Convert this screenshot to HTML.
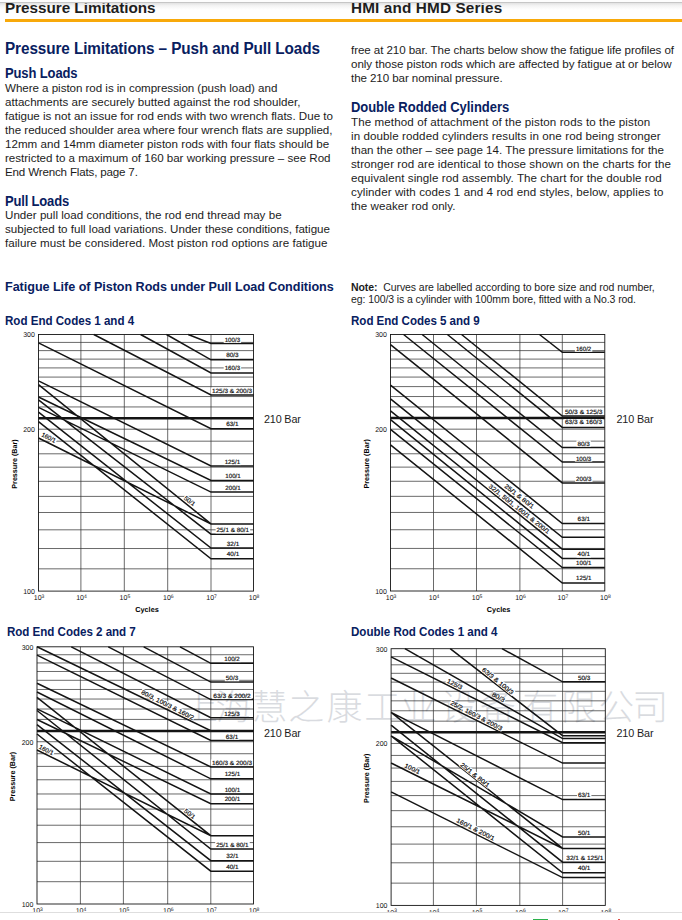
<!DOCTYPE html>
<html><head><meta charset="utf-8"><title>Pressure Limitations</title>
<style>
html,body{margin:0;padding:0;background:#fff}
body{width:682px;height:920px;position:relative;overflow:hidden;font-family:"Liberation Sans",sans-serif}
.t{position:absolute;white-space:nowrap;margin:0;padding:0}
svg{position:absolute;left:0;top:0}
svg text{font-family:"Liberation Sans",sans-serif;text-rendering:geometricPrecision}
#shadow{position:absolute;left:0;top:3px;width:682px;height:7px;background:linear-gradient(#e2e2e2,#f4f4f4 40%,#fff)}
#cap{position:absolute;left:0;top:0;width:682px;height:2.2px;background:#fdfdfd;border-bottom:1px solid #c6c6c6}
#rule{position:absolute;left:5px;top:19.4px;width:677px;height:2.8px;background:#f8a90a}
#gm{position:absolute;left:533px;top:919px;width:15px;height:1px;background:#2bb24c}
#rm{position:absolute;left:618px;top:919px;width:2px;height:1px;background:#e0504a}
#foot{position:absolute;left:0;top:912px;width:682px;height:8px;background:#fff;border-top:1px solid #dedede}
</style></head><body>
<div id="shadow"></div>
<svg width="682" height="920" viewBox="0 0 682 920">
<g>
<path d="M38.5 568.84H253.5M38.5 548.52H253.5M38.5 529.82H253.5M38.5 512.51H253.5M38.5 496.40H253.5M38.5 481.32H253.5M38.5 467.16H253.5M38.5 453.81H253.5M38.5 441.18H253.5M38.5 429.20H253.5M38.5 406.94H253.5M38.5 396.56H253.5M38.5 386.62H253.5M38.5 377.08H253.5M38.5 367.92H253.5M38.5 359.11H253.5M38.5 350.61H253.5M38.5 342.42H253.5M80.9 334.5V591.1M124.3 334.5V591.1M167.7 334.5V591.1M211.0 334.5V591.1" stroke="#383838" stroke-width="0.75" fill="none"/>
<rect x="38.5" y="334.5" width="215.00" height="256.60" fill="none" stroke="#141414" stroke-width="0.9"/>
<path d="M188.2 334.5L211.0 343.5H253.5M166.5 334.5L211.0 359.8H253.5M140.6 334.5L211.0 373.0H253.5M93.8 334.5L211.0 395.0H253.5M38.5 342.9L211.0 428.7H253.5M38.5 380.8L211.0 466.0H253.5M38.5 397.0L211.0 480.4H253.5M38.5 407.3L211.0 492.1H253.5M38.5 438.0L211.0 523.9H253.5M38.5 384.7L211.0 523.9H253.5M38.5 399.9L211.0 534.2H253.5M38.5 412.2L211.0 548.1H253.5M38.5 421.6L211.0 558.8H253.5" stroke="#141414" stroke-width="1.5" fill="none" stroke-linejoin="miter"/>
<path d="M38.5 418.30H253.5" stroke="#141414" stroke-width="2.6" fill="none"/>
<rect x="223.7" y="336.6" width="17.4" height="6.3" fill="#fff"/>
<text x="232.4" y="341.8" text-anchor="middle" font-size="6.2" fill="#111" stroke="#111" stroke-width="0.18" textLength="15.4" lengthAdjust="spacingAndGlyphs">100/3</text>
<rect x="225.2" y="352.2" width="14.4" height="6.3" fill="#fff"/>
<text x="232.4" y="357.4" text-anchor="middle" font-size="6.2" fill="#111" stroke="#111" stroke-width="0.18" textLength="12.4" lengthAdjust="spacingAndGlyphs">80/3</text>
<rect x="223.7" y="365.0" width="17.4" height="6.3" fill="#fff"/>
<text x="232.4" y="370.2" text-anchor="middle" font-size="6.2" fill="#111" stroke="#111" stroke-width="0.18" textLength="15.4" lengthAdjust="spacingAndGlyphs">160/3</text>
<rect x="210.9" y="387.5" width="42.2" height="6.3" fill="#fff"/>
<text x="232.0" y="392.7" text-anchor="middle" font-size="6.2" fill="#111" stroke="#111" stroke-width="0.18" textLength="40.2" lengthAdjust="spacingAndGlyphs">125/3 &amp; 200/3</text>
<rect x="225.2" y="421.0" width="14.4" height="6.3" fill="#fff"/>
<text x="232.4" y="426.2" text-anchor="middle" font-size="6.2" fill="#111" stroke="#111" stroke-width="0.18" textLength="12.4" lengthAdjust="spacingAndGlyphs">63/1</text>
<rect x="223.7" y="458.8" width="17.4" height="6.3" fill="#fff"/>
<text x="232.4" y="464.0" text-anchor="middle" font-size="6.2" fill="#111" stroke="#111" stroke-width="0.18" textLength="15.4" lengthAdjust="spacingAndGlyphs">125/1</text>
<rect x="224.3" y="472.5" width="17.4" height="6.3" fill="#fff"/>
<text x="233.0" y="477.7" text-anchor="middle" font-size="6.2" fill="#111" stroke="#111" stroke-width="0.18" textLength="15.4" lengthAdjust="spacingAndGlyphs">100/1</text>
<rect x="224.3" y="484.4" width="17.4" height="6.3" fill="#fff"/>
<text x="233.0" y="489.6" text-anchor="middle" font-size="6.2" fill="#111" stroke="#111" stroke-width="0.18" textLength="15.4" lengthAdjust="spacingAndGlyphs">200/1</text>
<rect x="215.6" y="527.1" width="34.5" height="6.3" fill="#fff"/>
<text x="232.8" y="532.3" text-anchor="middle" font-size="6.2" fill="#111" stroke="#111" stroke-width="0.18" textLength="32.5" lengthAdjust="spacingAndGlyphs">25/1 &amp; 80/1</text>
<rect x="225.8" y="540.3" width="14.4" height="6.3" fill="#fff"/>
<text x="233.0" y="545.5" text-anchor="middle" font-size="6.2" fill="#111" stroke="#111" stroke-width="0.18" textLength="12.4" lengthAdjust="spacingAndGlyphs">32/1</text>
<rect x="225.8" y="550.8" width="14.4" height="6.3" fill="#fff"/>
<text x="233.0" y="556.0" text-anchor="middle" font-size="6.2" fill="#111" stroke="#111" stroke-width="0.18" textLength="12.4" lengthAdjust="spacingAndGlyphs">40/1</text>
<g transform="translate(189.7 500.9) rotate(38)"><rect x="-7.0" y="-3.1" width="14.0" height="6.2" fill="#fff"/><text x="0" y="2.3" text-anchor="middle" font-size="6.2" fill="#111" stroke="#111" stroke-width="0.18" textLength="12.4" lengthAdjust="spacingAndGlyphs">50/1</text></g>
<g transform="translate(48.8 437.4) rotate(27)"><rect x="-8.5" y="-3.1" width="17.0" height="6.2" fill="#fff"/><text x="0" y="2.3" text-anchor="middle" font-size="6.2" fill="#111" stroke="#111" stroke-width="0.18" textLength="15.4" lengthAdjust="spacingAndGlyphs">160/1</text></g>
<text x="34.9" y="337.3" text-anchor="end" font-size="7" fill="#111">300</text>
<text x="34.9" y="432.0" text-anchor="end" font-size="7" fill="#111">200</text>
<text x="34.9" y="593.9" text-anchor="end" font-size="7" fill="#111">100</text>
<text x="33.8" y="600.4" font-size="7" fill="#111">10<tspan dy="-2.7" font-size="5">3</tspan></text>
<text x="76.2" y="600.4" font-size="7" fill="#111">10<tspan dy="-2.7" font-size="5">4</tspan></text>
<text x="119.6" y="600.4" font-size="7" fill="#111">10<tspan dy="-2.7" font-size="5">5</tspan></text>
<text x="163.0" y="600.4" font-size="7" fill="#111">10<tspan dy="-2.7" font-size="5">6</tspan></text>
<text x="206.3" y="600.4" font-size="7" fill="#111">10<tspan dy="-2.7" font-size="5">7</tspan></text>
<text x="248.8" y="600.4" font-size="7" fill="#111">10<tspan dy="-2.7" font-size="5">8</tspan></text>
<text x="147.0" y="612.1" text-anchor="middle" font-size="7.3" font-weight="700" fill="#000">Cycles</text>
<text transform="translate(16.5 464.0) rotate(-90)" text-anchor="middle" font-size="7.3" font-weight="700" fill="#000" textLength="49.4" lengthAdjust="spacingAndGlyphs">Pressure (Bar)</text>
</g>
<g>
<path d="M390.5 568.75H604.8M390.5 548.43H604.8M390.5 529.74H604.8M390.5 512.44H604.8M390.5 496.33H604.8M390.5 481.27H604.8M390.5 467.11H604.8M390.5 453.77H604.8M390.5 441.14H604.8M390.5 429.17H604.8M390.5 406.91H604.8M390.5 396.54H604.8M390.5 386.60H604.8M390.5 377.07H604.8M390.5 367.91H604.8M390.5 359.10H604.8M390.5 350.61H604.8M390.5 342.42H604.8M433.5 334.5V591.0M476.5 334.5V591.0M519.9 334.5V591.0M562.3 334.5V591.0" stroke="#383838" stroke-width="0.75" fill="none"/>
<rect x="390.5" y="334.5" width="214.30" height="256.50" fill="none" stroke="#141414" stroke-width="0.9"/>
<path d="M539.5 334.5L562.3 352.3H604.8M461.6 334.5L562.3 416.0H604.8M447.4 334.5L562.3 427.4H604.8M422.2 334.5L562.3 447.6H604.8M403.6 334.5L562.3 462.1H604.8M390.5 344.6L562.3 482.9H604.8M390.5 385.2L562.3 523.5H604.8M390.5 398.9L562.3 537.3H604.8M390.5 410.9L562.3 549.2H604.8M390.5 419.7L562.3 558.4H604.8M390.5 429.3L562.3 567.6H604.8M390.5 444.8L562.3 583.0H604.8" stroke="#141414" stroke-width="1.5" fill="none" stroke-linejoin="miter"/>
<path d="M390.5 418.00H604.8" stroke="#141414" stroke-width="2.6" fill="none"/>
<rect x="574.9" y="345.5" width="17.4" height="6.3" fill="#fff"/>
<text x="583.6" y="350.7" text-anchor="middle" font-size="6.2" fill="#111" stroke="#111" stroke-width="0.18" textLength="15.4" lengthAdjust="spacingAndGlyphs">160/2</text>
<rect x="563.9" y="408.4" width="39.6" height="6.3" fill="#fff"/>
<text x="583.7" y="413.6" text-anchor="middle" font-size="6.2" fill="#111" stroke="#111" stroke-width="0.18" textLength="37.6" lengthAdjust="spacingAndGlyphs">50/3 &amp; 125/3</text>
<rect x="563.9" y="419.2" width="39.2" height="6.3" fill="#fff"/>
<text x="583.5" y="424.4" text-anchor="middle" font-size="6.2" fill="#111" stroke="#111" stroke-width="0.18" textLength="37.2" lengthAdjust="spacingAndGlyphs">63/3 &amp; 160/3</text>
<rect x="576.4" y="440.3" width="14.4" height="6.3" fill="#fff"/>
<text x="583.6" y="445.5" text-anchor="middle" font-size="6.2" fill="#111" stroke="#111" stroke-width="0.18" textLength="12.4" lengthAdjust="spacingAndGlyphs">80/3</text>
<rect x="574.9" y="455.3" width="17.4" height="6.3" fill="#fff"/>
<text x="583.6" y="460.5" text-anchor="middle" font-size="6.2" fill="#111" stroke="#111" stroke-width="0.18" textLength="15.4" lengthAdjust="spacingAndGlyphs">100/3</text>
<rect x="575.1" y="475.6" width="17.4" height="6.3" fill="#fff"/>
<text x="583.8" y="480.8" text-anchor="middle" font-size="6.2" fill="#111" stroke="#111" stroke-width="0.18" textLength="15.4" lengthAdjust="spacingAndGlyphs">200/3</text>
<rect x="576.6" y="515.8" width="14.4" height="6.3" fill="#fff"/>
<text x="583.8" y="521.0" text-anchor="middle" font-size="6.2" fill="#111" stroke="#111" stroke-width="0.18" textLength="12.4" lengthAdjust="spacingAndGlyphs">63/1</text>
<rect x="576.6" y="551.2" width="14.4" height="6.3" fill="#fff"/>
<text x="583.8" y="556.4" text-anchor="middle" font-size="6.2" fill="#111" stroke="#111" stroke-width="0.18" textLength="12.4" lengthAdjust="spacingAndGlyphs">40/1</text>
<rect x="575.1" y="559.8" width="17.4" height="6.3" fill="#fff"/>
<text x="583.8" y="565.0" text-anchor="middle" font-size="6.2" fill="#111" stroke="#111" stroke-width="0.18" textLength="15.4" lengthAdjust="spacingAndGlyphs">100/1</text>
<rect x="575.1" y="574.8" width="17.4" height="6.3" fill="#fff"/>
<text x="583.8" y="580.0" text-anchor="middle" font-size="6.2" fill="#111" stroke="#111" stroke-width="0.18" textLength="15.4" lengthAdjust="spacingAndGlyphs">125/1</text>
<g transform="translate(519.4 496.1) rotate(38)"><rect x="-18.6" y="-3.1" width="37.2" height="6.2" fill="#fff"/><text x="0" y="2.3" text-anchor="middle" font-size="6.2" fill="#111" stroke="#111" stroke-width="0.18" textLength="35.6" lengthAdjust="spacingAndGlyphs">25/1 &amp; 80/1</text></g>
<g transform="translate(519.4 508.9) rotate(38.3)"><rect x="-38.6" y="-3.1" width="77.3" height="6.2" fill="#fff"/><text x="0" y="2.3" text-anchor="middle" font-size="6.2" fill="#111" stroke="#111" stroke-width="0.18" textLength="75.7" lengthAdjust="spacingAndGlyphs">32/1, 50/1, 160/1 &amp; 200/1</text></g>
<text x="386.9" y="337.3" text-anchor="end" font-size="7" fill="#111">300</text>
<text x="386.9" y="432.0" text-anchor="end" font-size="7" fill="#111">200</text>
<text x="386.9" y="593.8" text-anchor="end" font-size="7" fill="#111">100</text>
<text x="385.8" y="600.3" font-size="7" fill="#111">10<tspan dy="-2.7" font-size="5">3</tspan></text>
<text x="428.8" y="600.3" font-size="7" fill="#111">10<tspan dy="-2.7" font-size="5">4</tspan></text>
<text x="471.8" y="600.3" font-size="7" fill="#111">10<tspan dy="-2.7" font-size="5">5</tspan></text>
<text x="515.2" y="600.3" font-size="7" fill="#111">10<tspan dy="-2.7" font-size="5">6</tspan></text>
<text x="557.6" y="600.3" font-size="7" fill="#111">10<tspan dy="-2.7" font-size="5">7</tspan></text>
<text x="600.1" y="600.3" font-size="7" fill="#111">10<tspan dy="-2.7" font-size="5">8</tspan></text>
<text x="498.6" y="612.0" text-anchor="middle" font-size="7.3" font-weight="700" fill="#000">Cycles</text>
<text transform="translate(368.5 463.9) rotate(-90)" text-anchor="middle" font-size="7.3" font-weight="700" fill="#000" textLength="49.4" lengthAdjust="spacingAndGlyphs">Pressure (Bar)</text>
</g>
<g>
<path d="M37.0 881.69H253.5M37.0 861.32H253.5M37.0 842.58H253.5M37.0 825.23H253.5M37.0 809.08H253.5M37.0 793.97H253.5M37.0 779.77H253.5M37.0 766.39H253.5M37.0 753.73H253.5M37.0 741.72H253.5M37.0 719.41H253.5M37.0 709.00H253.5M37.0 699.04H253.5M37.0 689.48H253.5M37.0 680.30H253.5M37.0 671.47H253.5M37.0 662.95H253.5M37.0 654.74H253.5M80.4 646.8V904.0M123.4 646.8V904.0M167.7 646.8V904.0M210.8 646.8V904.0" stroke="#383838" stroke-width="0.75" fill="none"/>
<rect x="37.0" y="646.8" width="216.50" height="257.20" fill="none" stroke="#141414" stroke-width="0.9"/>
<path d="M180.0 646.8L210.8 663.3H253.5M143.7 646.8L210.8 682.1H253.5M108.3 646.8L210.8 699.6H253.5M71.3 646.8L210.8 717.7H253.5M37.0 646.8L210.8 730.8H253.5M37.0 655.1L210.8 740.4H253.5M37.0 683.2L210.8 766.9H253.5M37.0 692.0L210.8 778.8H253.5M37.0 708.8L210.8 794.0H253.5M37.0 719.5L210.8 803.7H253.5M37.0 750.0L210.8 835.7H253.5M37.0 697.3L210.8 835.7H253.5M37.0 710.5L210.8 849.0H253.5M37.0 724.6L210.8 860.7H253.5M37.0 734.0L210.8 871.2H253.5" stroke="#141414" stroke-width="1.5" fill="none" stroke-linejoin="miter"/>
<path d="M37.0 731.00H253.5" stroke="#141414" stroke-width="2.6" fill="none"/>
<rect x="223.3" y="655.8" width="17.4" height="6.3" fill="#fff"/>
<text x="232.0" y="661.0" text-anchor="middle" font-size="6.2" fill="#111" stroke="#111" stroke-width="0.18" textLength="15.4" lengthAdjust="spacingAndGlyphs">100/2</text>
<rect x="224.8" y="674.9" width="14.4" height="6.3" fill="#fff"/>
<text x="232.0" y="680.1" text-anchor="middle" font-size="6.2" fill="#111" stroke="#111" stroke-width="0.18" textLength="12.4" lengthAdjust="spacingAndGlyphs">50/3</text>
<rect x="212.2" y="692.8" width="39.5" height="6.3" fill="#fff"/>
<text x="232.0" y="698.0" text-anchor="middle" font-size="6.2" fill="#111" stroke="#111" stroke-width="0.18" textLength="37.5" lengthAdjust="spacingAndGlyphs">63/3 &amp; 200/2</text>
<rect x="223.3" y="710.4" width="17.4" height="6.3" fill="#fff"/>
<text x="232.0" y="715.6" text-anchor="middle" font-size="6.2" fill="#111" stroke="#111" stroke-width="0.18" textLength="15.4" lengthAdjust="spacingAndGlyphs">125/3</text>
<rect x="224.8" y="733.4" width="14.4" height="6.3" fill="#fff"/>
<text x="232.0" y="738.6" text-anchor="middle" font-size="6.2" fill="#111" stroke="#111" stroke-width="0.18" textLength="12.4" lengthAdjust="spacingAndGlyphs">63/1</text>
<rect x="210.9" y="759.5" width="42.2" height="6.3" fill="#fff"/>
<text x="232.0" y="764.7" text-anchor="middle" font-size="6.2" fill="#111" stroke="#111" stroke-width="0.18" textLength="40.2" lengthAdjust="spacingAndGlyphs">160/3 &amp; 200/3</text>
<rect x="223.7" y="771.0" width="17.4" height="6.3" fill="#fff"/>
<text x="232.4" y="776.2" text-anchor="middle" font-size="6.2" fill="#111" stroke="#111" stroke-width="0.18" textLength="15.4" lengthAdjust="spacingAndGlyphs">125/1</text>
<rect x="223.7" y="786.4" width="17.4" height="6.3" fill="#fff"/>
<text x="232.4" y="791.6" text-anchor="middle" font-size="6.2" fill="#111" stroke="#111" stroke-width="0.18" textLength="15.4" lengthAdjust="spacingAndGlyphs">100/1</text>
<rect x="223.7" y="796.2" width="17.4" height="6.3" fill="#fff"/>
<text x="232.4" y="801.4" text-anchor="middle" font-size="6.2" fill="#111" stroke="#111" stroke-width="0.18" textLength="15.4" lengthAdjust="spacingAndGlyphs">200/1</text>
<rect x="215.2" y="841.4" width="34.5" height="6.3" fill="#fff"/>
<text x="232.4" y="846.6" text-anchor="middle" font-size="6.2" fill="#111" stroke="#111" stroke-width="0.18" textLength="32.5" lengthAdjust="spacingAndGlyphs">25/1 &amp; 80/1</text>
<rect x="225.2" y="853.1" width="14.4" height="6.3" fill="#fff"/>
<text x="232.4" y="858.3" text-anchor="middle" font-size="6.2" fill="#111" stroke="#111" stroke-width="0.18" textLength="12.4" lengthAdjust="spacingAndGlyphs">32/1</text>
<rect x="225.2" y="863.3" width="14.4" height="6.3" fill="#fff"/>
<text x="232.4" y="868.5" text-anchor="middle" font-size="6.2" fill="#111" stroke="#111" stroke-width="0.18" textLength="12.4" lengthAdjust="spacingAndGlyphs">40/1</text>
<g transform="translate(189.9 813.7) rotate(38)"><rect x="-7.0" y="-3.1" width="14.0" height="6.2" fill="#fff"/><text x="0" y="2.3" text-anchor="middle" font-size="6.2" fill="#111" stroke="#111" stroke-width="0.18" textLength="12.4" lengthAdjust="spacingAndGlyphs">50/1</text></g>
<g transform="translate(46.4 749.8) rotate(27)"><rect x="-8.5" y="-3.1" width="17.0" height="6.2" fill="#fff"/><text x="0" y="2.3" text-anchor="middle" font-size="6.2" fill="#111" stroke="#111" stroke-width="0.18" textLength="15.4" lengthAdjust="spacingAndGlyphs">160/1</text></g>
<g transform="translate(167.7 704.7) rotate(27)"><rect x="-29.8" y="-3.1" width="59.6" height="6.2" fill="#fff"/><text x="0" y="2.3" text-anchor="middle" font-size="6.2" fill="#111" stroke="#111" stroke-width="0.18" textLength="58.0" lengthAdjust="spacingAndGlyphs">80/3, 100/3 &amp; 160/2</text></g>
<text x="33.4" y="649.6" text-anchor="end" font-size="7" fill="#111">300</text>
<text x="33.4" y="744.5" text-anchor="end" font-size="7" fill="#111">200</text>
<text x="33.4" y="906.8" text-anchor="end" font-size="7" fill="#111">100</text>
<text x="32.3" y="913.3" font-size="7" fill="#111">10<tspan dy="-2.7" font-size="5">3</tspan></text>
<text x="75.7" y="913.3" font-size="7" fill="#111">10<tspan dy="-2.7" font-size="5">4</tspan></text>
<text x="118.7" y="913.3" font-size="7" fill="#111">10<tspan dy="-2.7" font-size="5">5</tspan></text>
<text x="163.0" y="913.3" font-size="7" fill="#111">10<tspan dy="-2.7" font-size="5">6</tspan></text>
<text x="206.1" y="913.3" font-size="7" fill="#111">10<tspan dy="-2.7" font-size="5">7</tspan></text>
<text x="248.8" y="913.3" font-size="7" fill="#111">10<tspan dy="-2.7" font-size="5">8</tspan></text>
<text x="146.2" y="925.0" text-anchor="middle" font-size="7.3" font-weight="700" fill="#000">Cycles</text>
<text transform="translate(15.0 776.6) rotate(-90)" text-anchor="middle" font-size="7.3" font-weight="700" fill="#000" textLength="49.4" lengthAdjust="spacingAndGlyphs">Pressure (Bar)</text>
</g>
<g>
<path d="M391.1 883.13H605.3M391.1 862.80H605.3M391.1 844.10H605.3M391.1 826.78H605.3M391.1 810.66H605.3M391.1 795.58H605.3M391.1 781.41H605.3M391.1 768.06H605.3M391.1 755.43H605.3M391.1 743.44H605.3M391.1 721.17H605.3M391.1 710.78H605.3M391.1 700.84H605.3M391.1 691.30H605.3M391.1 682.14H605.3M391.1 673.32H605.3M391.1 664.82H605.3M391.1 656.62H605.3M433.4 648.7V905.4M476.4 648.7V905.4M519.8 648.7V905.4M562.6 648.7V905.4" stroke="#383838" stroke-width="0.75" fill="none"/>
<rect x="391.1" y="648.7" width="214.20" height="256.70" fill="none" stroke="#141414" stroke-width="0.9"/>
<path d="M502.0 648.7L562.6 681.8H605.3M450.2 648.7L562.6 735.7H605.3M404.9 648.7L562.6 738.6H605.3M391.1 656.9L562.6 742.7H605.3M391.1 678.0L562.6 763.1H605.3M391.1 712.3L562.6 799.6H605.3M391.1 712.3L562.6 848.4H605.3M391.1 725.2L562.6 862.2H605.3M391.1 735.8L562.6 836.9H605.3M391.1 735.8L562.6 872.8H605.3M391.1 763.0L562.6 848.4H605.3M391.1 791.8L562.6 877.6H605.3" stroke="#141414" stroke-width="1.5" fill="none" stroke-linejoin="miter"/>
<path d="M391.1 732.20H605.3" stroke="#141414" stroke-width="2.6" fill="none"/>
<rect x="577.0" y="674.3" width="14.4" height="6.3" fill="#fff"/>
<text x="584.2" y="679.5" text-anchor="middle" font-size="6.2" fill="#111" stroke="#111" stroke-width="0.18" textLength="12.4" lengthAdjust="spacingAndGlyphs">50/3</text>
<rect x="577.0" y="791.9" width="14.4" height="6.3" fill="#fff"/>
<text x="584.2" y="797.1" text-anchor="middle" font-size="6.2" fill="#111" stroke="#111" stroke-width="0.18" textLength="12.4" lengthAdjust="spacingAndGlyphs">63/1</text>
<rect x="577.0" y="829.3" width="14.4" height="6.3" fill="#fff"/>
<text x="584.2" y="834.5" text-anchor="middle" font-size="6.2" fill="#111" stroke="#111" stroke-width="0.18" textLength="12.4" lengthAdjust="spacingAndGlyphs">50/1</text>
<rect x="565.3" y="854.5" width="39.0" height="6.3" fill="#fff"/>
<text x="584.8" y="859.7" text-anchor="middle" font-size="6.2" fill="#111" stroke="#111" stroke-width="0.18" textLength="37.0" lengthAdjust="spacingAndGlyphs">32/1 &amp; 125/1</text>
<rect x="577.0" y="865.2" width="14.4" height="6.3" fill="#fff"/>
<text x="584.2" y="870.4" text-anchor="middle" font-size="6.2" fill="#111" stroke="#111" stroke-width="0.18" textLength="12.4" lengthAdjust="spacingAndGlyphs">40/1</text>
<g transform="translate(497.9 680.9) rotate(39)"><rect x="-20.1" y="-3.1" width="40.2" height="6.2" fill="#fff"/><text x="0" y="2.3" text-anchor="middle" font-size="6.2" fill="#111" stroke="#111" stroke-width="0.18" textLength="38.6" lengthAdjust="spacingAndGlyphs">63/3 &amp; 100/3</text></g>
<g transform="translate(454.8 684.0) rotate(26.5)"><rect x="-9.1" y="-3.1" width="18.1" height="6.2" fill="#fff"/><text x="0" y="2.3" text-anchor="middle" font-size="6.2" fill="#111" stroke="#111" stroke-width="0.18" textLength="16.5" lengthAdjust="spacingAndGlyphs">125/3</text></g>
<g transform="translate(498.5 697.0) rotate(29.4)"><rect x="-7.5" y="-3.1" width="15.1" height="6.2" fill="#fff"/><text x="0" y="2.3" text-anchor="middle" font-size="6.2" fill="#111" stroke="#111" stroke-width="0.18" textLength="13.5" lengthAdjust="spacingAndGlyphs">80/3</text></g>
<g transform="translate(476.5 715.4) rotate(27.5)"><rect x="-29.5" y="-3.1" width="59.0" height="6.2" fill="#fff"/><text x="0" y="2.3" text-anchor="middle" font-size="6.2" fill="#111" stroke="#111" stroke-width="0.18" textLength="57.4" lengthAdjust="spacingAndGlyphs">25/2, 160/3 &amp; 200/3</text></g>
<g transform="translate(475.1 774.8) rotate(38.5)"><rect x="-18.6" y="-3.1" width="37.2" height="6.2" fill="#fff"/><text x="0" y="2.3" text-anchor="middle" font-size="6.2" fill="#111" stroke="#111" stroke-width="0.18" textLength="35.6" lengthAdjust="spacingAndGlyphs">25/1 &amp; 80/1</text></g>
<g transform="translate(412.5 768.6) rotate(26.5)"><rect x="-9.1" y="-3.1" width="18.1" height="6.2" fill="#fff"/><text x="0" y="2.3" text-anchor="middle" font-size="6.2" fill="#111" stroke="#111" stroke-width="0.18" textLength="16.5" lengthAdjust="spacingAndGlyphs">100/1</text></g>
<g transform="translate(475.7 829.2) rotate(27)"><rect x="-21.7" y="-3.1" width="43.4" height="6.2" fill="#fff"/><text x="0" y="2.3" text-anchor="middle" font-size="6.2" fill="#111" stroke="#111" stroke-width="0.18" textLength="41.8" lengthAdjust="spacingAndGlyphs">160/1 &amp; 200/1</text></g>
<text x="387.5" y="651.5" text-anchor="end" font-size="7" fill="#111">300</text>
<text x="387.5" y="746.2" text-anchor="end" font-size="7" fill="#111">200</text>
<text x="387.5" y="908.2" text-anchor="end" font-size="7" fill="#111">100</text>
<text x="386.4" y="914.7" font-size="7" fill="#111">10<tspan dy="-2.7" font-size="5">3</tspan></text>
<text x="428.7" y="914.7" font-size="7" fill="#111">10<tspan dy="-2.7" font-size="5">4</tspan></text>
<text x="471.7" y="914.7" font-size="7" fill="#111">10<tspan dy="-2.7" font-size="5">5</tspan></text>
<text x="515.1" y="914.7" font-size="7" fill="#111">10<tspan dy="-2.7" font-size="5">6</tspan></text>
<text x="557.9" y="914.7" font-size="7" fill="#111">10<tspan dy="-2.7" font-size="5">7</tspan></text>
<text x="600.6" y="914.7" font-size="7" fill="#111">10<tspan dy="-2.7" font-size="5">8</tspan></text>
<text x="499.2" y="926.4" text-anchor="middle" font-size="7.3" font-weight="700" fill="#000">Cycles</text>
<text transform="translate(369.1 778.2) rotate(-90)" text-anchor="middle" font-size="7.3" font-weight="700" fill="#000" textLength="49.4" lengthAdjust="spacingAndGlyphs">Pressure (Bar)</text>
</g>
<g opacity="0.145" fill="#001030" stroke="none">
<text x="181.9 215.5 251.6 288.3 326.6 364.3 400.4 440.5 479.7 522.3 560.8 598.3 632.2" y="720.4" font-size="36" font-weight="300" style="font-family:'Liberation Sans','Noto Sans CJK SC',sans-serif">上海慧之康工业设备有限公司</text>
</g>
</svg>
<div id="rule"></div>
<div class="t" id="t0" style="left:5px;top:-2px;font-size:15.3px;line-height:19px;font-weight:700;color:#1e1e1e;letter-spacing:-0.041px">Pressure Limitations</div>
<div class="t" id="t1" style="left:351px;top:-2px;font-size:15.3px;line-height:19px;font-weight:700;color:#1e1e1e;letter-spacing:0.142px">HMI and HMD Series</div>
<div class="t" id="t2" style="transform:scaleY(1.06);transform-origin:0 15px;left:5.0px;top:39px;font-size:15.3px;line-height:19px;font-weight:700;color:#08205f;letter-spacing:-0.094px">Pressure Limitations – Push and Pull Loads</div>
<div class="t" id="t3" style="transform:scaleY(1.06);transform-origin:0 12px;left:4.9px;top:66px;font-size:13px;line-height:16px;font-weight:700;color:#08205f;letter-spacing:-0.109px">Push Loads</div>
<div class="t" id="t4" style="left:5.0px;top:81px;font-size:11.6px;line-height:14px;font-weight:400;color:#1c1c1c;letter-spacing:-0.043px">Where a piston rod is in compression (push load) and</div>
<div class="t" id="t5" style="left:5.0px;top:95px;font-size:11.6px;line-height:14px;font-weight:400;color:#1c1c1c;letter-spacing:0.004px">attachments are securely butted against the rod shoulder,</div>
<div class="t" id="t6" style="left:5.0px;top:109px;font-size:11.6px;line-height:14px;font-weight:400;color:#1c1c1c;letter-spacing:-0.000px">fatigue is not an issue for rod ends with two wrench flats. Due to</div>
<div class="t" id="t7" style="left:5.0px;top:123px;font-size:11.6px;line-height:14px;font-weight:400;color:#1c1c1c;letter-spacing:-0.009px">the reduced shoulder area where four wrench flats are supplied,</div>
<div class="t" id="t8" style="left:5.0px;top:137px;font-size:11.6px;line-height:14px;font-weight:400;color:#1c1c1c;letter-spacing:0.012px">12mm and 14mm diameter piston rods with four flats should be</div>
<div class="t" id="t9" style="left:5.0px;top:151px;font-size:11.6px;line-height:14px;font-weight:400;color:#1c1c1c;letter-spacing:-0.020px">restricted to a maximum of 160 bar working pressure – see Rod</div>
<div class="t" id="t10" style="left:5.0px;top:165px;font-size:11.6px;line-height:14px;font-weight:400;color:#1c1c1c;letter-spacing:-0.175px">End Wrench Flats, page 7.</div>
<div class="t" id="t11" style="transform:scaleY(1.06);transform-origin:0 12px;left:4.9px;top:194px;font-size:13px;line-height:16px;font-weight:700;color:#08205f;letter-spacing:-0.163px">Pull Loads</div>
<div class="t" id="t12" style="left:5.0px;top:208px;font-size:11.6px;line-height:14px;font-weight:400;color:#1c1c1c;letter-spacing:0.014px">Under pull load conditions, the rod end thread may be</div>
<div class="t" id="t13" style="left:5.0px;top:222px;font-size:11.6px;line-height:14px;font-weight:400;color:#1c1c1c;letter-spacing:0.003px">subjected to full load variations. Under these conditions, fatigue</div>
<div class="t" id="t14" style="left:5.0px;top:236px;font-size:11.6px;line-height:14px;font-weight:400;color:#1c1c1c;letter-spacing:0.035px">failure must be considered. Most piston rod options are fatigue</div>
<div class="t" id="t15" style="left:351px;top:43px;font-size:11.6px;line-height:14px;font-weight:400;color:#1c1c1c;letter-spacing:-0.082px">free at 210 bar. The charts below show the fatigue life profiles of</div>
<div class="t" id="t16" style="left:351px;top:57px;font-size:11.6px;line-height:14px;font-weight:400;color:#1c1c1c;letter-spacing:-0.044px">only those piston rods which are affected by fatigue at or below</div>
<div class="t" id="t17" style="left:351px;top:71px;font-size:11.6px;line-height:14px;font-weight:400;color:#1c1c1c;letter-spacing:-0.084px">the 210 bar nominal pressure.</div>
<div class="t" id="t18" style="transform:scaleY(1.06);transform-origin:0 12px;left:350.9px;top:100px;font-size:13px;line-height:16px;font-weight:700;color:#08205f;letter-spacing:-0.026px">Double Rodded Cylinders</div>
<div class="t" id="t19" style="left:351px;top:115px;font-size:11.6px;line-height:14px;font-weight:400;color:#1c1c1c;letter-spacing:0.095px">The method of attachment of the piston rods to the piston</div>
<div class="t" id="t20" style="left:351px;top:129px;font-size:11.6px;line-height:14px;font-weight:400;color:#1c1c1c;letter-spacing:0.082px">in double rodded cylinders results in one rod being stronger</div>
<div class="t" id="t21" style="left:351px;top:143px;font-size:11.6px;line-height:14px;font-weight:400;color:#1c1c1c;letter-spacing:-0.011px">than the other – see page 14. The pressure limitations for the</div>
<div class="t" id="t22" style="left:351px;top:157px;font-size:11.6px;line-height:14px;font-weight:400;color:#1c1c1c;letter-spacing:0.067px">stronger rod are identical to those shown on the charts for the</div>
<div class="t" id="t23" style="left:351px;top:171px;font-size:11.6px;line-height:14px;font-weight:400;color:#1c1c1c;letter-spacing:0.063px">equivalent single rod assembly. The chart for the double rod</div>
<div class="t" id="t24" style="left:351px;top:185px;font-size:11.6px;line-height:14px;font-weight:400;color:#1c1c1c;letter-spacing:0.083px">cylinder with codes 1 and 4 rod end styles, below, applies to</div>
<div class="t" id="t25" style="left:351px;top:199px;font-size:11.6px;line-height:14px;font-weight:400;color:#1c1c1c;letter-spacing:0.048px">the weaker rod only.</div>
<div class="t" id="t26" style="transform:scaleY(1.06);transform-origin:0 12px;left:5.0px;top:279px;font-size:12.6px;line-height:16px;font-weight:700;color:#08205f;letter-spacing:-0.041px">Fatigue Life of Piston Rods under Pull Load Conditions</div>
<div class="t" id="t27" style="left:351px;top:281px;font-size:10.5px;line-height:13px;font-weight:400;color:#1c1c1c;letter-spacing:-0.070px"><b>Note:</b>&nbsp; Curves are labelled according to bore size and rod number,</div>
<div class="t" id="t28" style="left:351px;top:293px;font-size:10.5px;line-height:13px;font-weight:400;color:#1c1c1c;letter-spacing:-0.090px">eg: 100/3 is a cylinder with 100mm bore, fitted with a No.3 rod.</div>
<div class="t" id="t29" style="transform:scaleY(1.06);transform-origin:0 11px;left:5.0px;top:314px;font-size:11.6px;line-height:14px;font-weight:700;color:#08205f;letter-spacing:-0.018px">Rod End Codes 1 and 4</div>
<div class="t" id="t30" style="transform:scaleY(1.06);transform-origin:0 11px;left:351px;top:314px;font-size:11.6px;line-height:14px;font-weight:700;color:#08205f;letter-spacing:-0.037px">Rod End Codes 5 and 9</div>
<div class="t" id="t31" style="transform:scaleY(1.06);transform-origin:0 11px;left:6.9px;top:625px;font-size:11.6px;line-height:14px;font-weight:700;color:#08205f;letter-spacing:-0.028px">Rod End Codes 2 and 7</div>
<div class="t" id="t32" style="transform:scaleY(1.06);transform-origin:0 11px;left:351px;top:625px;font-size:11.6px;line-height:14px;font-weight:700;color:#08205f;letter-spacing:-0.016px">Double Rod Codes 1 and 4</div>
<div class="t" id="t33" style="left:263.9px;top:413px;font-size:10.8px;line-height:13px;font-weight:400;color:#1c1c1c;letter-spacing:-0.133px">210 Bar</div>
<div class="t" id="t34" style="left:616.4px;top:413px;font-size:10.8px;line-height:13px;font-weight:400;color:#1c1c1c;letter-spacing:-0.118px">210 Bar</div>
<div class="t" id="t35" style="left:263.9px;top:727px;font-size:10.8px;line-height:13px;font-weight:400;color:#1c1c1c;letter-spacing:-0.133px">210 Bar</div>
<div class="t" id="t36" style="left:616.4px;top:727px;font-size:10.8px;line-height:13px;font-weight:400;color:#1c1c1c;letter-spacing:-0.118px">210 Bar</div>
<div id="cap"></div>
<div id="foot"></div><div id="gm"></div><div id="rm"></div>
</body></html>
